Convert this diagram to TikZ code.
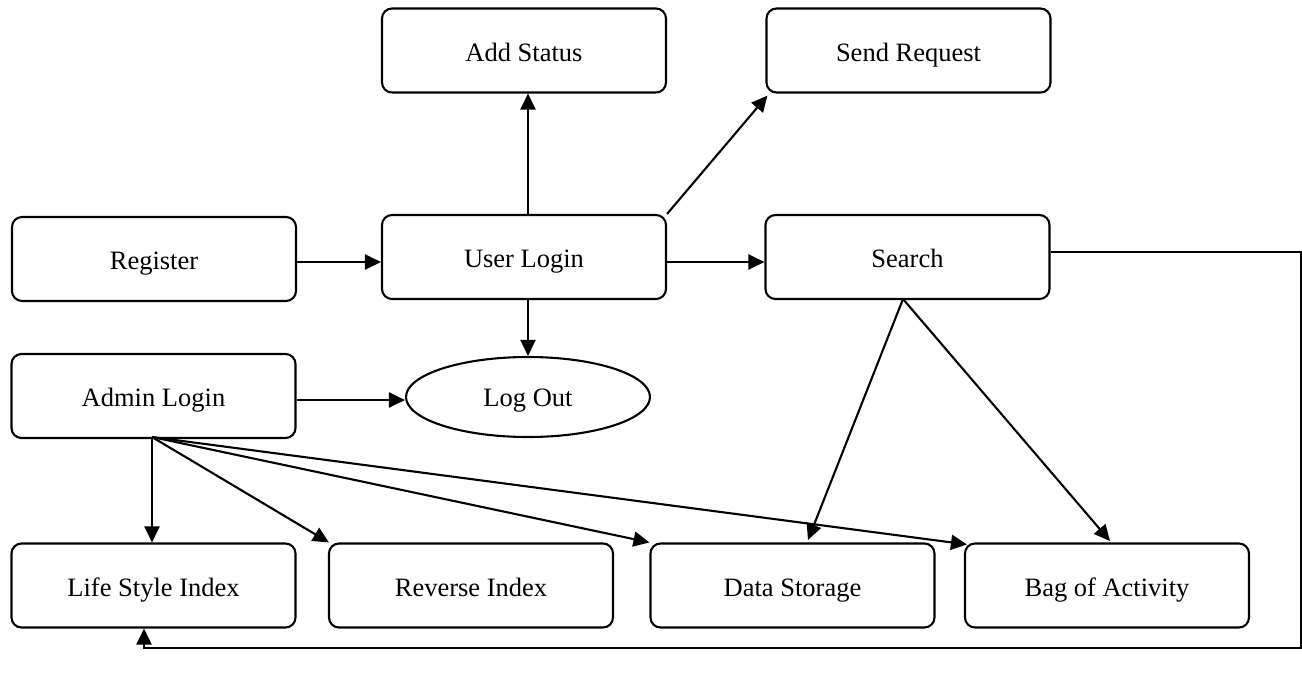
\documentclass[tikz,border=0pt]{standalone}
\usepackage{fontspec}
\setmainfont{Liberation Serif}
\usetikzlibrary{arrows.meta,shapes.geometric,calc}
\begin{document}
\begin{tikzpicture}[x=1pt,y=-1pt,
  every path/.style={line width=2.1pt},
  txt/.style={font=\fontsize{26.5}{30}\selectfont,text height=21pt,text depth=0pt},
  box/.style={draw,rounded corners=10pt,minimum width=284pt,minimum height=84pt,inner sep=0pt,txt},
  oval/.style={draw,ellipse,minimum width=244pt,minimum height=80pt,inner sep=0pt,font=\fontsize{26.5}{30}\selectfont,text height=18pt,text depth=0pt},
  arr/.style={-{Triangle[length=16pt,width=15pt]}}]
\useasboundingbox (0,0) rectangle (1302,675);
\node[box] (as) at (524,50.5) {Add Status};
\node[box] (sr) at (908.5,50.5) {Send Request};
\node[box] (reg) at (154,259) {Register};
\node[box] (ul) at (524,257) {User Login};
\node[box] (se) at (907.5,257) {Search};
\node[box] (al) at (153.5,396) {Admin Login};
\node[oval] (lo) at (528,397) {Log Out};
\node[box] (lsi) at (153.5,585.5) {Life Style Index};
\node[box] (ri) at (471,585.5) {Reverse Index};
\node[box] (ds) at (792.5,585.5) {Data Storage};
\node[box] (boa) at (1107,585.5) {Bag of Activity};
\coordinate (alp) at (152,437);
\coordinate (sep) at (903,299);
\coordinate (c1) at (1301,252);
\coordinate (c2) at (1301,648);
\coordinate (c3) at (144,648);
\draw[arr] (ul.north -| lo.north) -- (as.south -| lo.north);
\draw[arr] (ul.north east) -- ($(sr.south west)+(2,2)$);
\draw[arr] (reg.east |- 0,262) -- (ul.west |- 0,262);
\draw[arr] (ul.east |- 0,262) -- (se.west |- 0,262);
\draw[arr] (ul.south -| lo.north) -- (lo.north);
\draw[arr] (al.east |- 0,400) -- (lo.west |- 0,400);
\draw[arr] (alp) -- (lsi.north -| alp);
\draw[arr] (alp) -- ($(ri.north west)+(1,0)$);
\draw[arr] (alp) -- ($(ds.north west)+(0,0)$);
\draw[arr] (alp) -- ($(boa.north west)+(3,2)$);
\draw[arr] (sep) -- (808,540);
\draw[arr] (sep) -- (1110,541);
\draw[arr] (se.east |- c1) -- (c1) -- (c2) -- (c3) -- (lsi.south -| c3);
\end{tikzpicture}
\end{document}
